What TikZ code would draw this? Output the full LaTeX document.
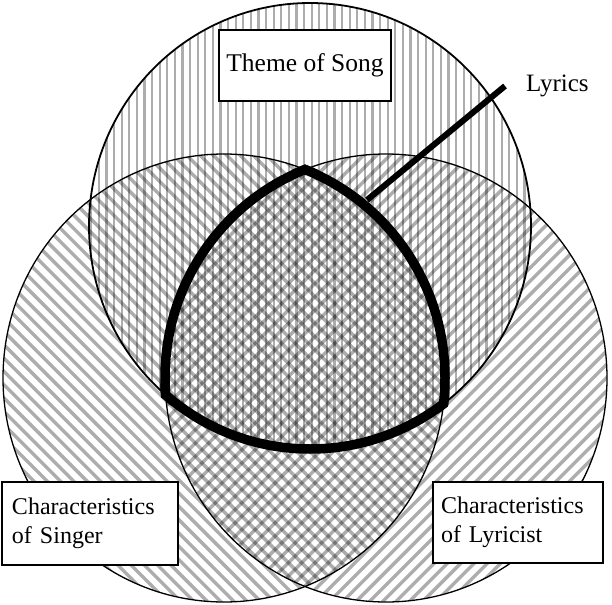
\documentclass[tikz,border=0pt]{standalone}
\usepackage{fontspec}
\setmainfont{Liberation Serif}
\begin{document}
\begin{tikzpicture}[x=1pt,y=-1pt,
  hatch/.style={line width=#1, draw=black, draw opacity=0.32},
  thinring/.style={line width=1.3pt, draw=black},
  tripleedge/.style={line width=9.5pt, draw=black},
  labelbox/.style={draw=black, line width=2.5pt, fill=white, inner ysep=0pt},
  lbl/.style={font=\fontsize{24}{29}\selectfont}]
\useasboundingbox (0,0) rectangle (612,604);
% ellipse centres
\coordinate (ct) at (310,226);
\coordinate (cl) at (224,378);
\coordinate (cr) at (386,378);
% hatching: top = vertical
\begin{scope}
  \clip (ct) ellipse [x radius=221, y radius=223];
  \foreach \x in {0,7.6,...,620} {\draw[hatch=2.2pt] (\x,0) -- (\x,604);}
\end{scope}
% left = down-right diagonals
\begin{scope}
  \clip (cl) ellipse [x radius=221, y radius=224];
  \foreach \c in {-700,-686.7,...,620} {\draw[hatch=3.4pt] (\c,0) -- ++(700,700);}
\end{scope}
% right = up-right diagonals
\begin{scope}
  \clip (cr) ellipse [x radius=221, y radius=224];
  \foreach \c in {0,13.3,...,1320} {\draw[hatch=3.4pt] (\c,0) -- ++(-700,700);}
\end{scope}
% thin outlines
\draw[thinring, line width=1.8pt] (ct) ellipse [x radius=221, y radius=223];
\draw[thinring] (cl) ellipse [x radius=221, y radius=224];
\draw[thinring] (cr) ellipse [x radius=221, y radius=224];
% thick outline of the triple intersection
\begin{scope}
  \clip (cl) ellipse [x radius=225.75, y radius=228.75];
  \clip (cr) ellipse [x radius=225.75, y radius=228.75];
  \draw[tripleedge] (ct) ellipse [x radius=221, y radius=223];
\end{scope}
\begin{scope}
  \clip (ct) ellipse [x radius=225.75, y radius=227.75];
  \clip (cr) ellipse [x radius=225.75, y radius=228.75];
  \draw[tripleedge] (cl) ellipse [x radius=221, y radius=224];
\end{scope}
\begin{scope}
  \clip (ct) ellipse [x radius=225.75, y radius=227.75];
  \clip (cl) ellipse [x radius=225.75, y radius=228.75];
  \draw[tripleedge] (cr) ellipse [x radius=221, y radius=224];
\end{scope}
% Lyrics pointer
\coordinate (lyfoot) at (367,200);
\coordinate (lyend) at (505,86);
\draw[line width=6pt] (lyfoot) -- (lyend);
\node[anchor=west, inner sep=0pt, font=\fontsize{25}{29}\selectfont] (lyrics) at (526,86) {Lyrics};
% label boxes
\node[labelbox, minimum width=172, minimum height=71, font=\fontsize{25.5}{31}\selectfont] (theme) at (305,65.5) {Theme of Song};
\node[labelbox, lbl, text width=156, inner xsep=10, minimum height=83, align=left] (singer) at (90,523.5) {Characteristics\\of Singer};
\node[labelbox, lbl, text width=154, inner xsep=8, minimum height=81, align=left] (lyricist) at (518,522.5) {Characteristics\\of Lyricist};
\end{tikzpicture}
\end{document}
